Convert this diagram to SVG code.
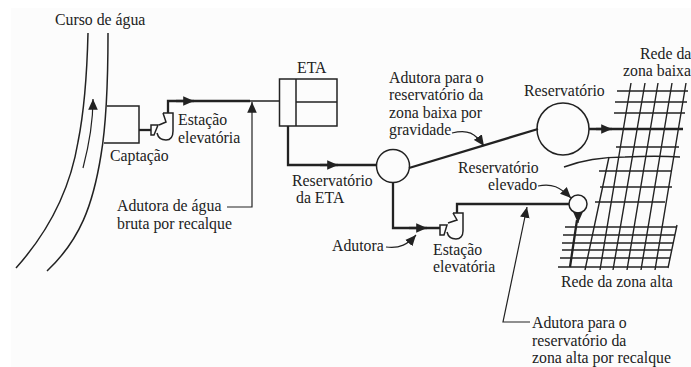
<svg xmlns="http://www.w3.org/2000/svg" width="691" height="367" viewBox="0 0 691 367">
<style>
text{font-family:"Liberation Serif","Times New Roman",serif;font-size:15.8px;fill:#222}
.n,.c,.t,.h,.g,.gt{fill:none;stroke:#222;stroke-linejoin:miter}
.n{stroke-width:1.5}
.c{stroke-width:1.2}
.t{stroke-width:2.3}
.g{stroke-width:1.4}
.a{marker-end:url(#ah)}
</style>
<defs>
<marker id="ah" markerUnits="userSpaceOnUse" markerWidth="12" markerHeight="10" refX="9" refY="4" orient="auto" viewBox="0 0 10 8"><path d="M0 0L9 4L0 8Z" fill="#222"/></marker>
</defs>
<rect x="11" y="8" width="680" height="359" fill="#fcfcfc"/>
<g id="curso-de-agua">
<path class="n" d="M88 33C87 75 84 112 78 142C70 190 50 230 16 268"/>
<path class="n" d="M108 33C108 75 107 120 101 155C93 205 80 240 47 271"/>
<path class="c a" d="M83 168C89 145 93 125 93 99"/>
<text x="55" y="25">Curso de água</text>
</g>
<g id="captacao">
<path class="n" d="M107 106H139V143H104"/>
<text x="110" y="161">Captação</text>
</g>
<g id="estacao-elevatoria-1">
<path class="n" d="M151 125H158L154 135H151Z"/>
<path class="n" d="M163 113H173V131C173 137 170 140 166 140C161 140 158 137 157 133M163 113L166 122L159 125"/>
<text x="178" y="125">Estação</text>
<text x="178" y="143">elevatória</text>
</g>
<g id="eta">
<path class="n" d="M279.500 79H337V126H279.500ZM296 79V126M296 102H337"/>
<text x="297" y="73">ETA</text>
</g>
<g id="reservatorio-eta">
<circle class="n" cx="393" cy="166" r="16.500"/>
<text x="292" y="186">Reservatório</text>
<text x="296" y="203">da ETA</text>
</g>
<g id="reservatorio-baixa">
<circle class="n" cx="563" cy="129" r="26"/>
<text x="524" y="96">Reservatório</text>
</g>
<g id="estacao-elevatoria-2">
<path class="n" d="M440 225H447L444 235H440Z"/>
<path class="n" d="M453 213H463V231C463 236 460 239 456 239C451 239 448 236 447 232M453 213L457 220L448 223"/>
<text x="433" y="255">Estação</text>
<text x="433" y="272">elevatória</text>
</g>
<g id="reservatorio-elevado">
<circle class="n" cx="578" cy="204" r="9"/>
<text x="458" y="173">Reservatório</text>
<text x="488" y="190">elevado</text>
</g>
<g id="rede-zona-baixa">
<path class="g" d="M617 91H688M615 102H687M614 113H685M616 147H679M599 171H672M600 187H672M595 202H665"/>
<path class="g" d="M564 167C585 159 605 157 625 157C645 156 665 156 680 157"/>
<text x="640" y="59">Rede da</text>
<text x="623" y="76">zona baixa</text>
</g>
<g id="rede-zona-alta">
<path class="g" d="M565 227H677M563 235H675M562 243H673M562 250H672M560 258H670M558 267H668M677 225L668 268"/>
<path class="g" d="M631 83L600 270M645 83L613 270M658 83L627 270M672 83L641 270M686 83L655 270M609 157L585 270"/>
<text x="561" y="287">Rede da zona alta</text>
</g>
<g id="connectors">
<path class="t" d="M139 130H151"/>
<path class="t" d="M168 113V101H250"/>
<path class="t a" d="M176 101H194"/>
<path class="n" d="M250 101H279"/>
<path class="t" d="M288 126V165H376"/>
<path class="t a" d="M320 165H338"/>
<path class="t" d="M393 182.500V228H440"/>
<path class="t a" d="M409 228H427"/>
<path class="t" d="M457 213V204H569"/>
<path class="t" d="M409 168L538 129"/>
<path class="t" d="M589 129H683"/>
<path class="t a" d="M596 129H612"/>
<path class="c a" d="M578 213V223"/>
<path class="t" d="M577 220L570 267"/>
<path class="c a" d="M227 207H252V102"/>
<path class="c a" d="M452 133C468 129 475 133 484 146"/>
<path class="c a" d="M538 186C552 183 560 187 571 198"/>
<path class="c a" d="M386 247C400 249 408 244 416 235"/>
<path class="c a" d="M530 322H503L527 207"/>
</g>
<g id="labels">
<text x="389" y="83">Adutora para o</text>
<text x="389" y="100">reservatório da</text>
<text x="389" y="118">zona baixa por</text>
<text x="389" y="135">gravidade</text>
<text x="117" y="211">Adutora de água</text>
<text x="117" y="229">bruta por recalque</text>
<text x="332" y="251">Adutora</text>
<text x="532" y="328">Adutora para o</text>
<text x="532" y="346">reservatório da</text>
<text x="532" y="363">zona alta por recalque</text>
</g>
</svg>
